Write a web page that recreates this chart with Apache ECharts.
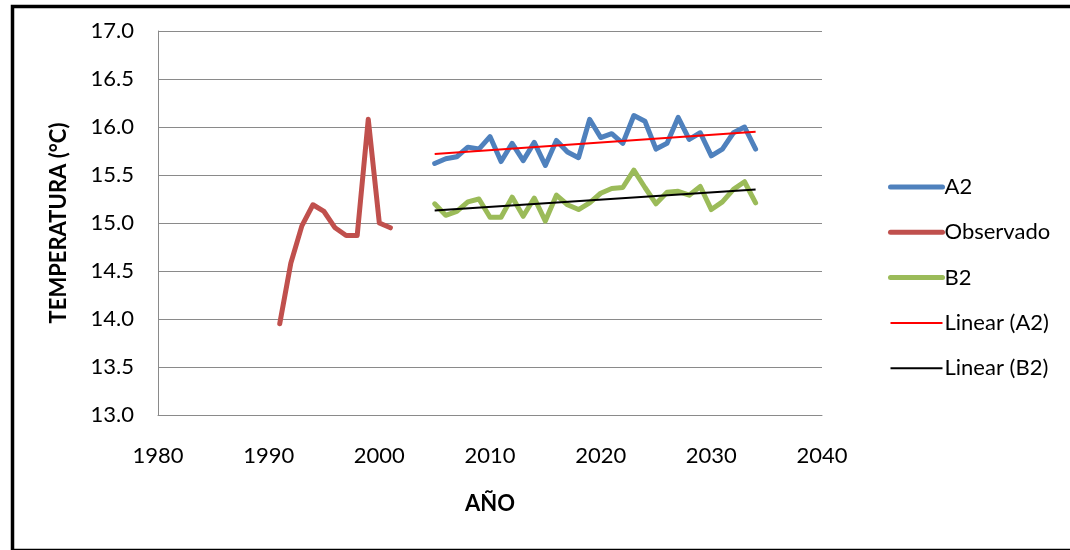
<!DOCTYPE html>
<html>
<head>
<meta charset="utf-8">
<script src="https://cdn.jsdelivr.net/npm/echarts@6/dist/echarts.min.js"></script>
<style>
html,body{margin:0;padding:0;background:#fff;}
#chart{width:1070px;height:550px;}
</style>
</head>
<body>
<div id="chart"></div>
<script>
// Observed temperatures
const obsYears = [1991,1992,1993,1994,1995,1996,1997,1998,1999,2000,2001];
const obsTemps = [13.95,14.58,14.97,15.19,15.12,14.95,14.87,14.87,16.08,15.00,14.95];

// Scenario years
const scenYears = [2005,2006,2007,2008,2009,2010,2011,2012,2013,2014,2015,2016,2017,2018,2019,
  2020,2021,2022,2023,2024,2025,2026,2027,2028,2029,2030,2031,2032,2033,2034];
const a2Temps = [15.62,15.67,15.69,15.79,15.77,15.90,15.64,15.83,15.65,15.84,15.60,15.86,15.74,15.68,16.08,
  15.89,15.93,15.83,16.12,16.06,15.77,15.83,16.10,15.87,15.94,15.70,15.77,15.94,16.00,15.77];
const b2Temps = [15.20,15.08,15.12,15.22,15.25,15.06,15.06,15.27,15.07,15.26,15.02,15.29,15.19,15.14,15.21,
  15.31,15.36,15.37,15.55,15.37,15.20,15.32,15.33,15.29,15.38,15.14,15.22,15.35,15.43,15.21];

// Trend line end points
const trendYears = [2005, 2034];
const trendA2 = [15.72, 15.95];
const trendB2 = [15.13, 15.35];

const yTicks = ['13.0','13.5','14.0','14.5','15.0','15.5','16.0','16.5','17.0'];
const xTicks = ['1980','1990','2000','2010','2020','2030','2040'];

const zip = (xs, ys) => xs.map((x, i) => [x, ys[i]]);
const FONT = 'Lato';

const chart = echarts.init(document.getElementById('chart'), null, {renderer: 'canvas'});
chart.setOption({
  animation: false,
  backgroundColor: '#fff',
  textStyle: {fontFamily: FONT, color: '#000'},
  grid: {left: 158, right: 248, top: 31, bottom: 135, containLabel: false},
  xAxis: {
    type: 'value',
    min: Number(xTicks[0]), max: Number(xTicks[xTicks.length - 1]), interval: 10,
    name: 'AÑO', nameLocation: 'middle', nameGap: 78,
    nameTextStyle: {fontFamily: FONT, fontWeight: 'bold', fontSize: 22, color: '#000'},
    axisLine: {show: true, lineStyle: {color: '#8a8a8a', width: 1}},
    axisTick: {show: false},
    splitLine: {show: false},
    axisLabel: {fontFamily: FONT, fontSize: 22, color: '#000', margin: 30,
      formatter: v => String(v)}
  },
  yAxis: {
    type: 'value',
    min: Number(yTicks[0]), max: Number(yTicks[yTicks.length - 1]), interval: 0.5,
    name: 'TEMPERATURA (°C)', nameLocation: 'middle', nameGap: 88, nameRotate: 90,
    nameTextStyle: {fontFamily: FONT, fontWeight: 'bold', fontSize: 22, color: '#000'},
    axisLine: {show: true, lineStyle: {color: '#8a8a8a', width: 1}},
    axisTick: {show: false},
    splitLine: {show: true, lineStyle: {color: '#8a8a8a', width: 1}},
    axisLabel: {fontFamily: FONT, fontSize: 22, color: '#000', margin: 24,
      formatter: v => v.toFixed(1)}
  },
  legend: {
    orient: 'vertical',
    left: 883, top: 171,
    itemWidth: 52, itemHeight: 14, itemGap: 23.3,
    itemStyle: {opacity: 0},
    lineStyle: {width: 'inherit'},
    textStyle: {fontFamily: FONT, fontSize: 22, color: '#000', padding: [0,0,0,-3]},
    data: ['A2','Observado','B2','Linear (A2)','Linear (B2)']
  },
  series: [
    {name: 'A2', type: 'line', data: zip(scenYears, a2Temps), symbol: 'none',
      lineStyle: {color: '#4F81BD', width: 5, cap: 'round', join: 'round'}, itemStyle: {color: '#4F81BD'}, z: 2},
    {name: 'Observado', type: 'line', data: zip(obsYears, obsTemps), symbol: 'none',
      lineStyle: {color: '#C0504D', width: 5, cap: 'round', join: 'round'}, itemStyle: {color: '#C0504D'}, z: 2},
    {name: 'B2', type: 'line', data: zip(scenYears, b2Temps), symbol: 'none',
      lineStyle: {color: '#9BBB59', width: 5, cap: 'round', join: 'round'}, itemStyle: {color: '#9BBB59'}, z: 2},
    {name: 'Linear (A2)', type: 'line', data: zip(trendYears, trendA2), symbol: 'none',
      lineStyle: {color: '#FF0000', width: 2}, itemStyle: {color: '#FF0000'}, z: 3},
    {name: 'Linear (B2)', type: 'line', data: zip(trendYears, trendB2), symbol: 'none',
      lineStyle: {color: '#000000', width: 2}, itemStyle: {color: '#000000'}, z: 3}
  ],
  graphic: [
    {type: 'rect', left: 10, top: 4, silent: true,
      shape: {x: 0, y: 0, width: 1100, height: 544},
      style: {fill: 'none', stroke: '#000', lineWidth: 3.5}}
  ]
});
</script>
</body>
</html>
